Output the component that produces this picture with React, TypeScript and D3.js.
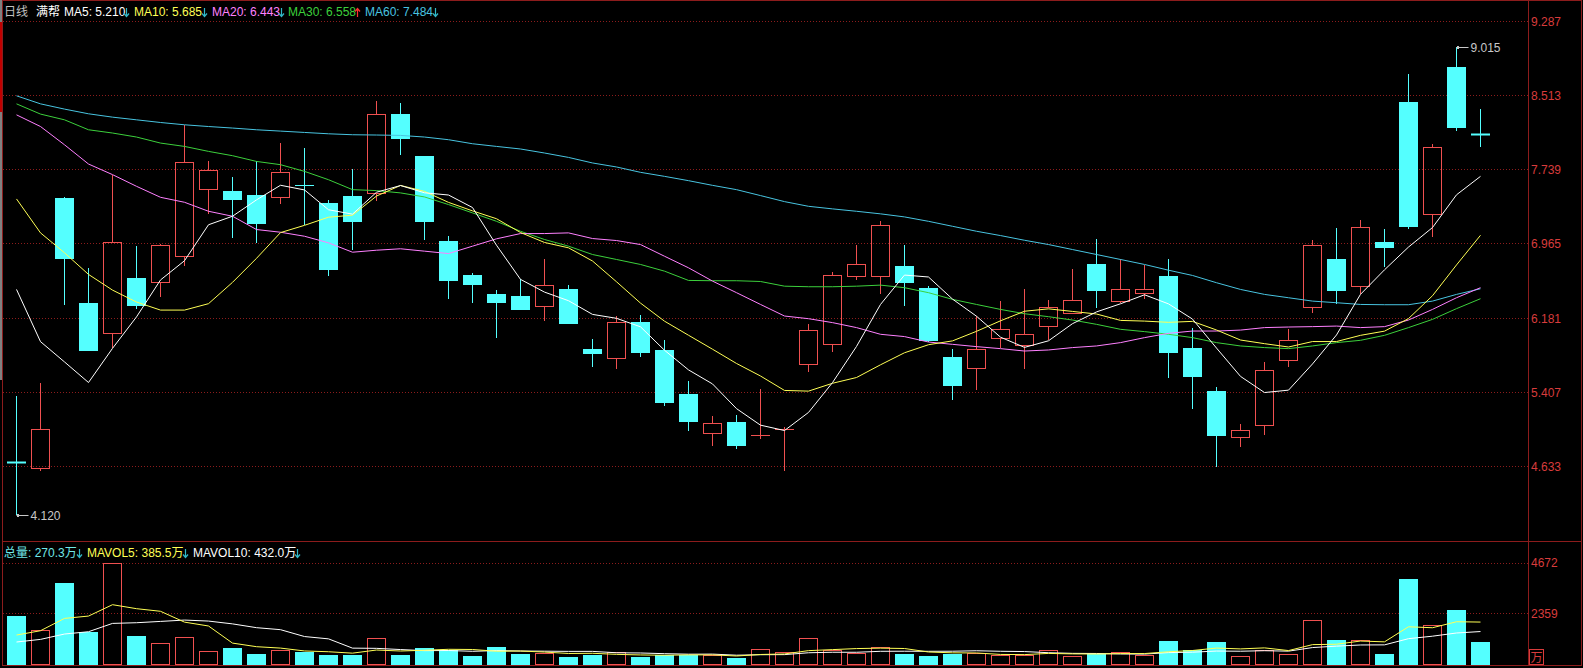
import React from 'react';
import * as d3 from 'd3';

const W = 1583;
const H = 668;

// ---- data ----
const opens = [4.675, 4.612, 7.442, 6.336, 6.030, 6.597, 6.562, 6.829, 7.532, 7.515, 7.473, 7.445, 7.576, 7.389, 7.463, 7.491, 8.318, 7.880, 6.993, 6.638, 6.430, 6.409, 6.308, 6.482, 5.860, 5.770, 6.138, 5.846, 5.387, 4.977, 5.095, 4.960, 5.020, 5.700, 5.916, 6.621, 6.621, 6.732, 6.492, 5.776, 5.661, 5.978, 5.901, 6.099, 6.239, 6.750, 6.364, 6.443, 6.618, 5.874, 5.415, 4.935, 5.066, 5.745, 6.302, 6.795, 6.516, 6.975, 8.443, 7.272, 8.805, 8.104];
const highs = [5.363, 5.502, 7.449, 6.701, 7.674, 6.934, 6.962, 8.196, 7.820, 7.661, 7.828, 8.015, 7.963, 7.421, 7.744, 8.453, 8.436, 7.880, 7.045, 6.649, 6.472, 6.594, 6.795, 6.524, 5.968, 6.204, 6.211, 5.950, 5.522, 5.157, 5.168, 5.439, 5.040, 6.124, 6.662, 6.951, 7.202, 6.951, 6.516, 5.856, 6.204, 6.360, 6.482, 6.370, 6.691, 7.004, 6.795, 6.740, 6.795, 6.082, 5.467, 5.071, 5.728, 6.065, 6.996, 7.126, 7.209, 7.118, 8.738, 8.002, 9.015, 8.367];
const lows = [4.120, 4.587, 6.318, 5.849, 5.874, 6.273, 6.402, 6.725, 7.267, 7.017, 6.965, 7.372, 7.153, 6.621, 6.892, 7.403, 7.883, 6.996, 6.381, 6.339, 5.974, 6.263, 6.155, 6.130, 5.676, 5.655, 5.776, 5.265, 5.004, 4.848, 4.810, 4.917, 4.587, 5.619, 5.828, 6.576, 6.437, 6.308, 5.932, 5.327, 5.432, 5.867, 5.655, 5.950, 6.239, 6.287, 6.343, 6.385, 5.561, 5.230, 4.622, 4.831, 4.962, 5.676, 6.239, 6.333, 6.430, 6.715, 7.118, 7.028, 8.133, 7.970];
const closes = [4.672, 5.019, 6.809, 5.849, 6.980, 6.318, 6.948, 7.814, 7.731, 7.424, 7.174, 7.710, 7.572, 6.694, 7.194, 8.318, 8.060, 7.194, 6.579, 6.537, 6.350, 6.273, 6.531, 6.130, 5.820, 6.145, 5.828, 5.306, 5.108, 5.081, 4.858, 4.964, 5.024, 6.054, 6.638, 6.750, 7.160, 6.558, 5.953, 5.484, 5.856, 6.065, 6.020, 6.302, 6.375, 6.475, 6.489, 6.489, 5.828, 5.578, 4.962, 5.008, 5.644, 5.953, 6.948, 6.475, 7.136, 6.923, 7.142, 7.970, 8.185, 8.100];
const volumes = [2230, 1593, 3732, 1517, 4672, 1320, 1001, 1259, 637, 774, 500, 683, 607, 455, 455, 1214, 455, 774, 683, 410, 819, 500, 531, 364, 455, 576, 364, 455, 455, 455, 319, 713, 576, 1214, 683, 561, 804, 500, 410, 500, 531, 470, 455, 683, 394, 500, 576, 455, 1092, 683, 1047, 394, 683, 485, 2033, 1138, 1123, 500, 3914, 1820, 2503, 1047];

const ma5 = [6.482, 5.936, 5.724, 5.509, 5.866, 6.195, 6.581, 6.782, 7.158, 7.247, 7.418, 7.571, 7.522, 7.315, 7.269, 7.498, 7.568, 7.492, 7.469, 7.338, 6.944, 6.587, 6.454, 6.364, 6.221, 6.180, 6.091, 5.846, 5.641, 5.494, 5.236, 5.063, 5.007, 5.196, 5.508, 5.886, 6.325, 6.632, 6.612, 6.381, 6.202, 5.983, 5.876, 5.945, 6.124, 6.247, 6.332, 6.426, 6.331, 6.172, 5.869, 5.573, 5.404, 5.429, 5.703, 6.006, 6.431, 6.687, 6.925, 7.129, 7.471, 7.664];
const ma10 = [7.428, 7.073, 6.865, 6.639, 6.475, 6.350, 6.266, 6.266, 6.333, 6.556, 6.807, 7.076, 7.152, 7.237, 7.258, 7.458, 7.569, 7.507, 7.392, 7.303, 7.221, 7.077, 6.973, 6.917, 6.779, 6.562, 6.339, 6.150, 6.003, 5.857, 5.708, 5.577, 5.426, 5.419, 5.501, 5.561, 5.694, 5.820, 5.904, 5.944, 6.044, 6.154, 6.254, 6.279, 6.252, 6.225, 6.158, 6.151, 6.138, 6.148, 6.058, 5.953, 5.915, 5.880, 5.937, 5.937, 6.002, 6.046, 6.177, 6.416, 6.738, 7.048];
const ma20 = [8.307, 8.185, 7.994, 7.793, 7.682, 7.560, 7.445, 7.393, 7.299, 7.247, 7.108, 7.080, 7.038, 6.969, 6.871, 6.892, 6.907, 6.882, 6.857, 6.934, 7.011, 7.066, 7.066, 7.073, 7.014, 6.993, 6.951, 6.829, 6.708, 6.569, 6.448, 6.325, 6.204, 6.176, 6.135, 6.083, 6.013, 5.989, 5.932, 5.908, 5.884, 5.863, 5.838, 5.849, 5.874, 5.891, 5.926, 5.978, 6.023, 6.047, 6.047, 6.057, 6.083, 6.089, 6.093, 6.099, 6.083, 6.093, 6.162, 6.273, 6.395, 6.500];
const ma30 = [8.422, 8.315, 8.255, 8.151, 8.117, 8.075, 8.012, 7.977, 7.925, 7.880, 7.820, 7.786, 7.716, 7.629, 7.525, 7.515, 7.491, 7.449, 7.369, 7.282, 7.194, 7.090, 7.004, 6.934, 6.847, 6.795, 6.743, 6.673, 6.576, 6.573, 6.573, 6.565, 6.516, 6.510, 6.510, 6.516, 6.527, 6.500, 6.448, 6.378, 6.325, 6.273, 6.228, 6.197, 6.162, 6.117, 6.065, 6.041, 6.013, 5.978, 5.926, 5.891, 5.874, 5.863, 5.891, 5.926, 5.950, 6.002, 6.083, 6.169, 6.281, 6.385];
const ma60 = [8.506, 8.422, 8.367, 8.318, 8.283, 8.255, 8.227, 8.203, 8.185, 8.169, 8.151, 8.137, 8.123, 8.109, 8.099, 8.096, 8.092, 8.075, 8.047, 8.005, 7.977, 7.950, 7.908, 7.862, 7.804, 7.762, 7.706, 7.664, 7.619, 7.570, 7.525, 7.463, 7.400, 7.351, 7.324, 7.299, 7.272, 7.240, 7.194, 7.142, 7.090, 7.045, 6.996, 6.951, 6.899, 6.847, 6.795, 6.743, 6.683, 6.628, 6.552, 6.482, 6.430, 6.395, 6.360, 6.343, 6.325, 6.322, 6.322, 6.360, 6.430, 6.489];
const mavol5 = [1365, 1562, 2124, 2230, 2749, 2567, 2448, 1954, 1778, 998, 834, 771, 640, 604, 540, 683, 637, 671, 716, 707, 628, 637, 589, 525, 534, 485, 458, 443, 461, 461, 410, 479, 504, 655, 701, 749, 768, 752, 592, 555, 549, 482, 473, 528, 507, 500, 522, 522, 603, 661, 771, 734, 780, 658, 928, 947, 1092, 1056, 1742, 1699, 1972, 1957];
const mavol10 = [1047, 1168, 1411, 1517, 1896, 1927, 1987, 2048, 2002, 1874, 1701, 1610, 1297, 1191, 769, 759, 704, 655, 660, 624, 656, 637, 630, 621, 621, 557, 548, 516, 493, 497, 447, 469, 473, 558, 581, 580, 624, 628, 624, 628, 649, 625, 613, 560, 531, 525, 502, 497, 566, 584, 636, 628, 651, 631, 795, 859, 913, 918, 1200, 1314, 1459, 1525];

const priceTicks = [9.287, 8.513, 7.739, 6.965, 6.181, 5.407, 4.633];
const volTicks = [4672, 2359];
const maxMark = { index: 60, value: 9.015, label: '9.015' };
const minMark = { index: 0, value: 4.12, label: '4.120' };

// ---- styles ----
const FONT = '"Liberation Sans", Arial, "Noto Sans CJK SC", sans-serif';
const RED = '#f05050';
const CYAN = '#54ffff';
const BORDER = '#8c1c1c';
const GRID = '#8c1c1c';
const AXIS_TXT = '#d83c3c';
const C_MA5 = '#ffffff';
const C_MA10 = '#ffff55';
const C_MA20 = '#ff80ff';
const C_MA30 = '#3cd03c';
const C_MA60 = '#48c4e0';
const ARROW_DN = '#30b8c8';
const ARROW_UP = '#ff3030';

const PLOT_L = 3;
const PLOT_R = 1528;
const SEP_Y = 541;
const VOL_BOTTOM = 665;

function Arrow({ x, y, up, color }: { x: number; y: number; up: boolean; color: string }) {
  // thin arrow glyph, ~9px tall
  const top = y - 9;
  const bot = y;
  const cxp = x + 2.5;
  const d = up
    ? `M${cxp},${bot} L${cxp},${top + 1} M${cxp - 2.5},${top + 3.5} L${cxp},${top + 0.5} L${cxp + 2.5},${top + 3.5}`
    : `M${cxp},${top} L${cxp},${bot - 1} M${cxp - 2.5},${bot - 3.5} L${cxp},${bot - 0.5} L${cxp + 2.5},${bot - 3.5}`;
  return <path d={d} fill="none" stroke={color} strokeWidth={1.2} />;
}

export default function App() {
  const n = closes.length;
  const idx = d3.range(n);
  const x = d3
    .scaleBand<number>()
    .domain(idx)
    .range([4.5, 1492.5])
    .paddingInner(5 / 24)
    .paddingOuter(5 / 48);
  const bw = x.bandwidth();
  const left = (i: number) => Math.round(x(i) as number);
  const cx = (i: number) => Math.floor((x(i) as number) + bw / 2) + 0.5;

  const y = d3.scaleLinear().domain([4.633, 9.287]).range([466.3, 21.1]);
  const vy = d3.scaleLinear().domain([0, 4672]).range([VOL_BOTTOM, 562.5]);

  const line = (arr: number[], sy: d3.ScaleLinear<number, number>) =>
    d3
      .line<number>()
      .x((_, i) => cx(i))
      .y((d) => sy(d))(arr) as string;

  const candles = idx.map((i) => {
    const o = opens[i];
    const c = closes[i];
    const h = highs[i];
    const l = lows[i];
    const up = c > o;
    const col = up ? RED : CYAN;
    const yTop = Math.round(y(Math.max(o, c)));
    const yBot = Math.round(y(Math.min(o, c)));
    const yh = Math.round(y(h));
    const yl = Math.round(y(l));
    const xc = cx(i);
    const xl = left(i);
    if (yBot - yTop <= 1) {
      return (
        <g key={i}>
          <line x1={xc} x2={xc} y1={yh} y2={yl} stroke={col} strokeWidth={1} />
          <line x1={xl} x2={xl + bw} y1={yTop + 0.5} y2={yTop + 0.5} stroke={col} strokeWidth={yBot - yTop + 1} />
        </g>
      );
    }
    if (up) {
      return (
        <g key={i}>
          <line x1={xc} x2={xc} y1={yh} y2={yTop} stroke={col} strokeWidth={1} />
          <line x1={xc} x2={xc} y1={yBot} y2={yl} stroke={col} strokeWidth={1} />
          <rect x={xl + 0.5} y={yTop + 0.5} width={bw - 1} height={yBot - yTop} fill="none" stroke={col} strokeWidth={1} />
        </g>
      );
    }
    return (
      <g key={i}>
        <line x1={xc} x2={xc} y1={yh} y2={yl} stroke={col} strokeWidth={1} />
        <rect x={xl} y={yTop} width={bw} height={yBot - yTop + 1} fill={col} />
      </g>
    );
  });

  const volBars = idx.map((i) => {
    const up = closes[i] > opens[i];
    const top = Math.round(vy(volumes[i]));
    const xl = left(i);
    if (up) {
      return (
        <rect key={i} x={xl + 0.5} y={top + 0.5} width={bw - 1} height={VOL_BOTTOM - top - 1} fill="none" stroke={RED} strokeWidth={1} />
      );
    }
    return <rect key={i} x={xl} y={top} width={bw} height={VOL_BOTTOM - top} fill={CYAN} />;
  });

  const hx = cx(maxMark.index);
  const hy = y(maxMark.value);
  const lx = cx(minMark.index);
  const ly = y(minMark.value);

  const txt = { fontFamily: FONT, fontSize: 12 } as const;

  return (
    <svg
      width={W}
      height={H}
      style={{ position: 'absolute', left: 0, top: 0, background: '#000', display: 'block' }}
    >
      <rect x={0} y={0} width={W} height={H} fill="#000" />
      {/* left strip */}
      <rect x={0} y={0} width={2} height={380} fill="#808080" />
      <rect x={0} y={22} width={2} height={90} fill="#c00000" />

      {/* grid */}
      {priceTicks.map((t) => (
        <line key={t} x1={PLOT_L} x2={PLOT_R} y1={Math.round(y(t)) + 0.5} y2={Math.round(y(t)) + 0.5} stroke={GRID} strokeDasharray="1,2" />
      ))}
      {volTicks.map((t) => (
        <line key={t} x1={PLOT_L} x2={PLOT_R} y1={Math.round(vy(t)) + 0.5} y2={Math.round(vy(t)) + 0.5} stroke={GRID} strokeDasharray="1,2" />
      ))}

      {/* frame */}
      <rect x={2.5} y={0.5} width={1579} height={VOL_BOTTOM} fill="none" stroke={BORDER} />
      <line x1={2.5} x2={1581.5} y1={SEP_Y + 0.5} y2={SEP_Y + 0.5} stroke={BORDER} />
      <line x1={PLOT_R + 0.5} x2={PLOT_R + 0.5} y1={0} y2={VOL_BOTTOM + 1} stroke={BORDER} />

      {/* axis labels */}
      {priceTicks.map((t) => (
        <text key={t} x={1531} y={y(t) + 4.5} fill={AXIS_TXT} {...txt}>
          {t.toFixed(3)}
        </text>
      ))}
      {volTicks.map((t) => (
        <text key={t} x={1531} y={vy(t) + 4.5} fill={AXIS_TXT} {...txt}>
          {t}
        </text>
      ))}
      <rect x={1529.5} y={649.5} width={14} height={15} fill="none" stroke={AXIS_TXT} />
      <text x={1530.5} y={662} fill={AXIS_TXT} {...txt}>万</text>

      {/* candles */}
      {candles}

      {/* moving averages */}
      <path d={line(ma60, y)} fill="none" stroke={C_MA60} strokeWidth={1} />
      <path d={line(ma30, y)} fill="none" stroke={C_MA30} strokeWidth={1} />
      <path d={line(ma20, y)} fill="none" stroke={C_MA20} strokeWidth={1} />
      <path d={line(ma10, y)} fill="none" stroke={C_MA10} strokeWidth={1} />
      <path d={line(ma5, y)} fill="none" stroke={C_MA5} strokeWidth={1} />

      {/* max / min markers */}
      <line x1={hx} x2={hx + 12} y1={Math.round(hy) + 0.5} y2={Math.round(hy) + 0.5} stroke="#c8c8c8" />
      <rect x={hx + 0.5} y={Math.round(hy) - 1} width={2} height={3} fill="#c8c8c8" />
      <text x={hx + 14} y={hy + 4.5} fill="#c8c8c8" {...txt}>{maxMark.label}</text>
      <line x1={lx} x2={lx + 12} y1={Math.round(ly) + 0.5} y2={Math.round(ly) + 0.5} stroke="#c8c8c8" />
      <rect x={lx + 0.5} y={Math.round(ly) - 1} width={2} height={3} fill="#c8c8c8" />
      <text x={lx + 14} y={ly + 4.5} fill="#c8c8c8" {...txt}>{minMark.label}</text>

      {/* volume */}
      {volBars}
      <path d={line(mavol10, vy)} fill="none" stroke="#ffffff" strokeWidth={1} />
      <path d={line(mavol5, vy)} fill="none" stroke={C_MA10} strokeWidth={1} />

      {/* header */}
      <g {...txt}>
        <text x={4} y={16} fill="#c0c0c0">日线</text>
        <text x={36} y={16} fill="#ffffff">满帮</text>
        <text x={64} y={16} fill={C_MA5}>MA5: 5.210</text>
        <text x={134} y={16} fill={C_MA10}>MA10: 5.685</text>
        <text x={212} y={16} fill={C_MA20}>MA20: 6.443</text>
        <text x={288} y={16} fill={C_MA30}>MA30: 6.558</text>
        <text x={365} y={16} fill={C_MA60}>MA60: 7.484</text>

        <text x={4} y={557} fill="#70e8e8">总量: 270.3万</text>
        <text x={87} y={557} fill={C_MA10}>MAVOL5: 385.5万</text>
        <text x={193} y={557} fill="#ffffff">MAVOL10: 432.0万</text>
      </g>
      <Arrow x={124} y={17} up={false} color={ARROW_DN} />
      <Arrow x={202} y={17} up={false} color={ARROW_DN} />
      <Arrow x={279} y={17} up={false} color={ARROW_DN} />
      <Arrow x={355} y={17} up={true} color={ARROW_UP} />
      <Arrow x={433} y={17} up={false} color={ARROW_DN} />
      <Arrow x={77} y={558} up={false} color={ARROW_DN} />
      <Arrow x={183} y={558} up={false} color={ARROW_DN} />
      <Arrow x={295} y={558} up={false} color={ARROW_DN} />
    </svg>
  );
}
